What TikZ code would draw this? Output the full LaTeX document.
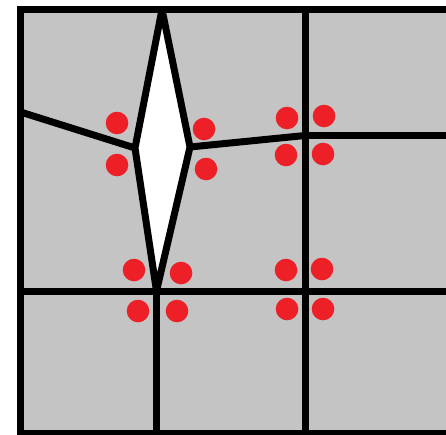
\documentclass[tikz,border=0pt]{standalone}
\begin{document}
\begin{tikzpicture}[x=1pt,y=-1pt,
  edge/.style={line width=7pt,draw=black,line join=miter},
  dot/.style={fill=dotred,draw=none}]
\definecolor{cellgray}{RGB}{196,196,196}
\definecolor{dotred}{RGB}{237,32,39}
\useasboundingbox (0,0) rectangle (446,434);
\clip (0,0) rectangle (446,434);
% corner coordinates
\coordinate (TL) at (20.5,9.5);
\coordinate (TR) at (470,9.5);
\coordinate (BL) at (20.5,433.5);
\coordinate (BR) at (470,433.5);
\coordinate (dT) at (162,9.5);
\coordinate (dL) at (135,148);
\coordinate (dB) at (156.5,291);
\coordinate (dR) at (190,147);
\coordinate (lE) at (20.5,112);
\coordinate (vT) at (305,9.5);
\coordinate (vB) at (305,433.5);
\coordinate (xA) at (305,135.5);
\coordinate (xAR) at (470,135.5);
\coordinate (hL) at (20.5,291);
\coordinate (hR) at (470,291);
\coordinate (lvB) at (156.5,433.5);
% background
\fill[cellgray] (TL) rectangle (BR);
% diamond
\filldraw[edge,fill=white,line join=bevel] (dT) -- (dR) -- (dB) -- (dL) -- cycle;
% internal lines
\draw[edge] (lE) -- (dL);
\draw[edge] (dR) -- (xA);
\draw[edge] (vT) -- (vB);
\draw[edge] (xA) -- (xAR);
\draw[edge] (hL) -- (hR);
\draw[edge] (dB) -- (lvB);
% frame
\draw[edge] (TR) -- (TL) -- (BL) -- (BR);
% red dots
\foreach \p in {(117,123),(117,165),(204,129),(206,169),
  (287,118),(324,116),(286,155),(323,154),
  (134,270),(181,273),(138,311),(177,311),
  (286,270),(322,269),(287,309),(323,309)}
  \fill[dot] \p circle (11.3);
\end{tikzpicture}
\end{document}
